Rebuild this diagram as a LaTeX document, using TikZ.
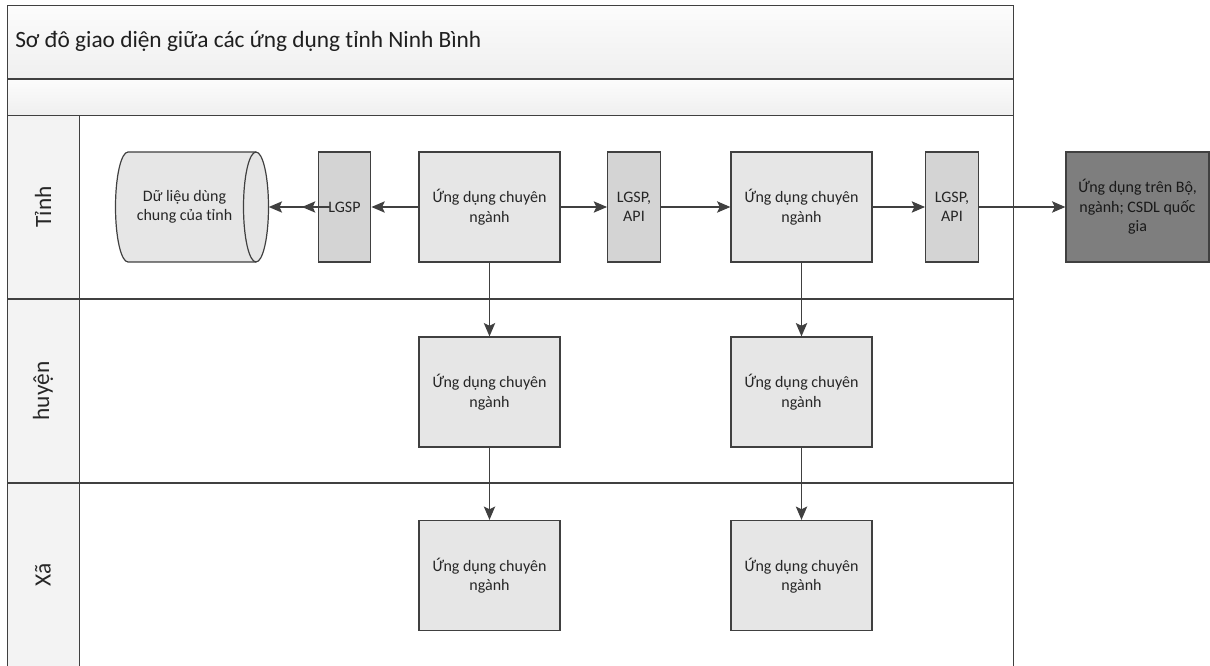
\documentclass[tikz,border=0pt]{standalone}
\usepackage{fontspec}
\setmainfont{Carlito}
\usetikzlibrary{arrows.meta}

\definecolor{edge}{HTML}{404040}
\definecolor{boxfill}{HTML}{E6E6E6}
\definecolor{gatefill}{HTML}{D4D4D4}
\definecolor{extfill}{HTML}{7E7E7E}
\definecolor{bandtop}{HTML}{FCFCFC}
\definecolor{bandbot}{HTML}{EFEFEF}
\definecolor{headfill}{HTML}{F3F3F3}
\definecolor{ink}{HTML}{262626}

\begin{document}
\begin{tikzpicture}[x=0.75pt,y=-0.75pt,
  appbox/.style={draw=edge, line width=0.9pt, fill=boxfill,
    minimum width=105.75pt, minimum height=82.5pt, inner sep=0pt,
    align=center, text=ink, font=\fontsize{12}{14.6}\selectfont},
  gatebox/.style={appbox, fill=gatefill, minimum width=39.5pt},
  extbox/.style={appbox, fill=extfill, minimum width=107.25pt, text=black!90},
  lanetext/.style={rotate=90, text=ink, font=\fontsize{17.5}{21}\selectfont},
  conn/.style={draw=edge, line width=0.9pt,
    -{Stealth[length=10pt,width=8.5pt,inset=2pt]}},
  frameline/.style={draw=edge, line width=1.1pt}]

% page size
\useasboundingbox (0,0) rectangle (1210,666);

% title band and empty band
\shade[top color=bandtop, bottom color=bandbot] (7.5,5.5) rectangle (1013.5,79);
\shade[top color=bandtop, bottom color=bandbot] (7.5,79) rectangle (1013.5,115.5);
% lane header column
\fill[headfill] (7.5,115.5) rectangle (79.5,666);

% frame of the pool
\draw[frameline] (7.5,666) -- (7.5,5.5) -- (1013.5,5.5) -- (1013.5,666);
\draw[frameline] (7.5,79) -- (1013.5,79);
\draw[frameline] (7.5,115.5) -- (1013.5,115.5);
\draw[frameline] (7.5,299) -- (1013.5,299);
\draw[frameline] (7.5,483) -- (1013.5,483);
\draw[frameline] (79.5,115.5) -- (79.5,666);

% title
\node[anchor=base west, inner sep=0pt, text=black!88,
      font=\fontsize{17.5}{21}\selectfont] (title) at (15,48)
  {Sơ đô giao diện giữa các ứng dụng tỉnh Ninh Bình};

% lane labels
\node[lanetext] (laneT) at (43,207) {Tỉnh};
\node[lanetext] (laneH) at (43,391) {huyện};
\node[lanetext] (laneX) at (43,574.5) {Xã};

% shared data store (horizontal cylinder)
\node[minimum width=114.75pt, minimum height=82.5pt, inner sep=0pt] (db) at (192,207) {};
\filldraw[fill=boxfill, draw=edge, line width=0.9pt]
  (128,152) -- (256,152)
  .. controls (262.9,152) and (268.5,176.6) .. (268.5,207)
  .. controls (268.5,237.4) and (262.9,262) .. (256,262)
  -- (128,262)
  .. controls (121.1,262) and (115.5,237.4) .. (115.5,207)
  .. controls (115.5,176.6) and (121.1,152) .. (128,152) -- cycle;
\draw[edge, line width=0.9pt]
  (256,152) .. controls (249.1,152) and (243.5,176.6) .. (243.5,207)
  .. controls (243.5,237.4) and (249.1,262) .. (256,262);
\node[align=center, text=ink, font=\fontsize{12}{14.6}\selectfont] (dbtext)
  at (184.5,207) {Dữ liệu dùng\\chung của tỉnh};

% province lane
\node[gatebox] (lgsp1) at (344.5,207) {LGSP};
\node[appbox]  (ud1)   at (489.5,207) {Ứng dụng chuyên\\ngành};
\node[gatebox] (api1)  at (634,207)   {LGSP,\\API};
\node[appbox]  (ud2)   at (801.5,207) {Ứng dụng chuyên\\ngành};
\node[gatebox] (api2)  at (952,207)   {LGSP,\\API};
\node[extbox]  (bo)    at (1137.5,207) {Ứng dụng trên Bộ,\\ngành; CSDL quốc\\gia};

% district lane
\node[appbox] (h1) at (489.5,392) {Ứng dụng chuyên\\ngành};
\node[appbox] (h2) at (801.5,392) {Ứng dụng chuyên\\ngành};

% commune lane
\node[appbox] (x1) at (489.5,575.5) {Ứng dụng chuyên\\ngành};
\node[appbox] (x2) at (801.5,575.5) {Ứng dụng chuyên\\ngành};

% connectors
\coordinate (tapL) at (302,207);
\draw[conn] (ud1) -- (lgsp1);
\draw[conn] (lgsp1) -- (db);
\draw[conn] ([xshift=9pt]lgsp1.west) -- (tapL);
\draw[conn] (ud1) -- (api1);
\draw[conn] (api1) -- (ud2);
\draw[conn] (ud2) -- (api2);
\draw[conn] (api2) -- (bo);
\draw[conn] (ud1) -- (h1);
\draw[conn] (h1) -- (x1);
\draw[conn] (ud2) -- (h2);
\draw[conn] (h2) -- (x2);
\end{tikzpicture}
\end{document}
